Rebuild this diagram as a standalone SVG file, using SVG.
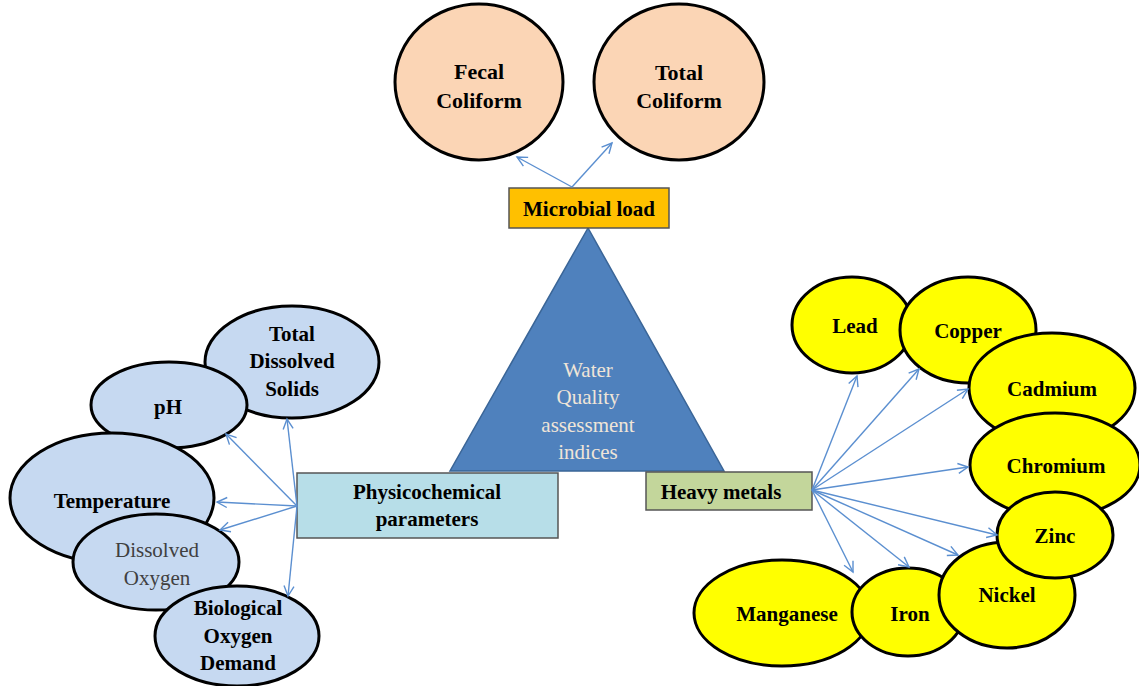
<svg xmlns="http://www.w3.org/2000/svg" width="1139" height="686" viewBox="0 0 1139 686">
<defs>
<marker id="ah" markerUnits="userSpaceOnUse" markerWidth="14" markerHeight="14" refX="11" refY="6" orient="auto">
<path d="M1,1 L11,6 L1,11" fill="none" stroke="#5B8FD0" stroke-width="1.4"/>
</marker>
<style>
.t{font-family:"Liberation Serif","Times New Roman",serif;font-weight:bold;font-size:21px;fill:#000;text-anchor:middle}
.e{stroke:#000;stroke-width:3}
.pink{fill:#FBD5B5}
.blue{fill:#C6D9F1}
.yel{fill:#FFFF00}
.c{stroke:#5B8FD0;stroke-width:1.4;fill:none;marker-end:url(#ah)}
.box{stroke:#555;stroke-width:1.5}
</style>
</defs>
<rect width="1139" height="686" fill="#fff"/>

<g id="triangle">
<polygon points="588,228 450,471 724,471" fill="#4F81BD" stroke="#3A6597" stroke-width="1.5"/>
<text x="588" y="377" style="font-family:'Liberation Serif',serif;font-size:21px;fill:#EFE5D8;text-anchor:middle">Water</text>
<text x="588" y="404" style="font-family:'Liberation Serif',serif;font-size:21px;fill:#EFE5D8;text-anchor:middle">Quality</text>
<text x="588" y="432" style="font-family:'Liberation Serif',serif;font-size:21px;fill:#EFE5D8;text-anchor:middle">assessment</text>
<text x="588" y="459" style="font-family:'Liberation Serif',serif;font-size:21px;fill:#EFE5D8;text-anchor:middle">indices</text>
</g>

<g id="fecal-coliform">
<ellipse class="e pink" cx="479" cy="82" rx="84" ry="78"/>
<text class="t" x="479" y="79" style="font-size:22px">Fecal</text>
<text class="t" x="479" y="108" style="font-size:22px">Coliform</text>
</g>
<g id="total-coliform">
<ellipse class="e pink" cx="679" cy="82" rx="85" ry="78"/>
<text class="t" x="679" y="80" style="font-size:22px">Total</text>
<text class="t" x="679" y="108" style="font-size:22px">Coliform</text>
</g>

<g id="microbial-load">
<rect class="box" x="509" y="188" width="160" height="40" fill="#FFC000"/>
<text class="t" x="589" y="216">Microbial load</text>
</g>

<g id="physicochemical">
<rect class="box" x="297" y="473" width="261" height="65" fill="#B7DEE8"/>
<text class="t" x="427" y="499">Physicochemical</text>
<text class="t" x="427" y="526">parameters</text>
</g>

<g id="heavy-metals">
<rect class="box" x="646" y="472" width="166" height="38" fill="#C3D69B"/>
<text class="t" x="721" y="499">Heavy metals</text>
</g>

<g id="total-dissolved-solids">
<ellipse class="e blue" cx="292" cy="362" rx="87" ry="56"/>
<text class="t" x="292" y="341">Total</text>
<text class="t" x="292" y="368">Dissolved</text>
<text class="t" x="292" y="396">Solids</text>
</g>
<g id="ph">
<ellipse class="e blue" cx="169" cy="405" rx="78" ry="43"/>
<text class="t" x="168" y="414">pH</text>
</g>
<g id="temperature">
<ellipse class="e blue" cx="112" cy="498" rx="102" ry="65"/>
<text class="t" x="112" y="508">Temperature</text>
</g>
<g id="dissolved-oxygen">
<ellipse class="e blue" cx="156" cy="562" rx="83" ry="48"/>
<text x="157" y="557" style="font-family:'Liberation Serif',serif;font-size:21px;fill:#404040;text-anchor:middle">Dissolved</text>
<text x="157" y="585" style="font-family:'Liberation Serif',serif;font-size:21px;fill:#404040;text-anchor:middle">Oxygen</text>
</g>
<g id="biological-oxygen-demand">
<ellipse class="e blue" cx="237" cy="636" rx="82" ry="50"/>
<text class="t" x="238" y="615">Biological</text>
<text class="t" x="238" y="643">Oxygen</text>
<text class="t" x="238" y="670">Demand</text>
</g>

<g id="lead">
<ellipse class="e yel" cx="852" cy="325" rx="60" ry="48"/>
<text class="t" x="855" y="333">Lead</text>
</g>
<g id="copper">
<ellipse class="e yel" cx="968" cy="330" rx="68" ry="53"/>
<text class="t" x="968" y="338">Copper</text>
</g>
<g id="cadmium">
<ellipse class="e yel" cx="1052" cy="388" rx="83" ry="55"/>
<text class="t" x="1052" y="396">Cadmium</text>
</g>
<g id="chromium">
<ellipse class="e yel" cx="1055" cy="465" rx="85" ry="52"/>
<text class="t" x="1056" y="473">Chromium</text>
</g>
<g id="manganese">
<ellipse class="e yel" cx="782" cy="613" rx="88" ry="53"/>
<text class="t" x="787" y="621">Manganese</text>
</g>
<g id="iron">
<ellipse class="e yel" cx="908" cy="612" rx="56" ry="44"/>
<text class="t" x="910" y="621">Iron</text>
</g>
<g id="nickel">
<ellipse class="e yel" cx="1007" cy="595" rx="68" ry="53"/>
<text class="t" x="1007" y="602">Nickel</text>
</g>
<g id="zinc">
<ellipse class="e yel" cx="1055" cy="535" rx="58" ry="43"/>
<text class="t" x="1055" y="543">Zinc</text>
</g>

<g id="connectors">
<line class="c" x1="572" y1="187" x2="517" y2="157"/>
<line class="c" x1="572" y1="187" x2="612" y2="143"/>
<line class="c" x1="297" y1="506" x2="287" y2="419"/>
<line class="c" x1="297" y1="506" x2="226" y2="434"/>
<line class="c" x1="297" y1="506" x2="217" y2="502"/>
<line class="c" x1="297" y1="506" x2="220" y2="530"/>
<line class="c" x1="297" y1="506" x2="288" y2="596"/>
<line class="c" x1="812" y1="490" x2="857" y2="376"/>
<line class="c" x1="812" y1="490" x2="919" y2="369"/>
<line class="c" x1="812" y1="490" x2="968" y2="389"/>
<line class="c" x1="812" y1="490" x2="968" y2="467"/>
<line class="c" x1="812" y1="490" x2="997" y2="535"/>
<line class="c" x1="812" y1="490" x2="958" y2="555"/>
<line class="c" x1="812" y1="490" x2="909" y2="567"/>
<line class="c" x1="812" y1="490" x2="853" y2="572"/>
</g>
</svg>
